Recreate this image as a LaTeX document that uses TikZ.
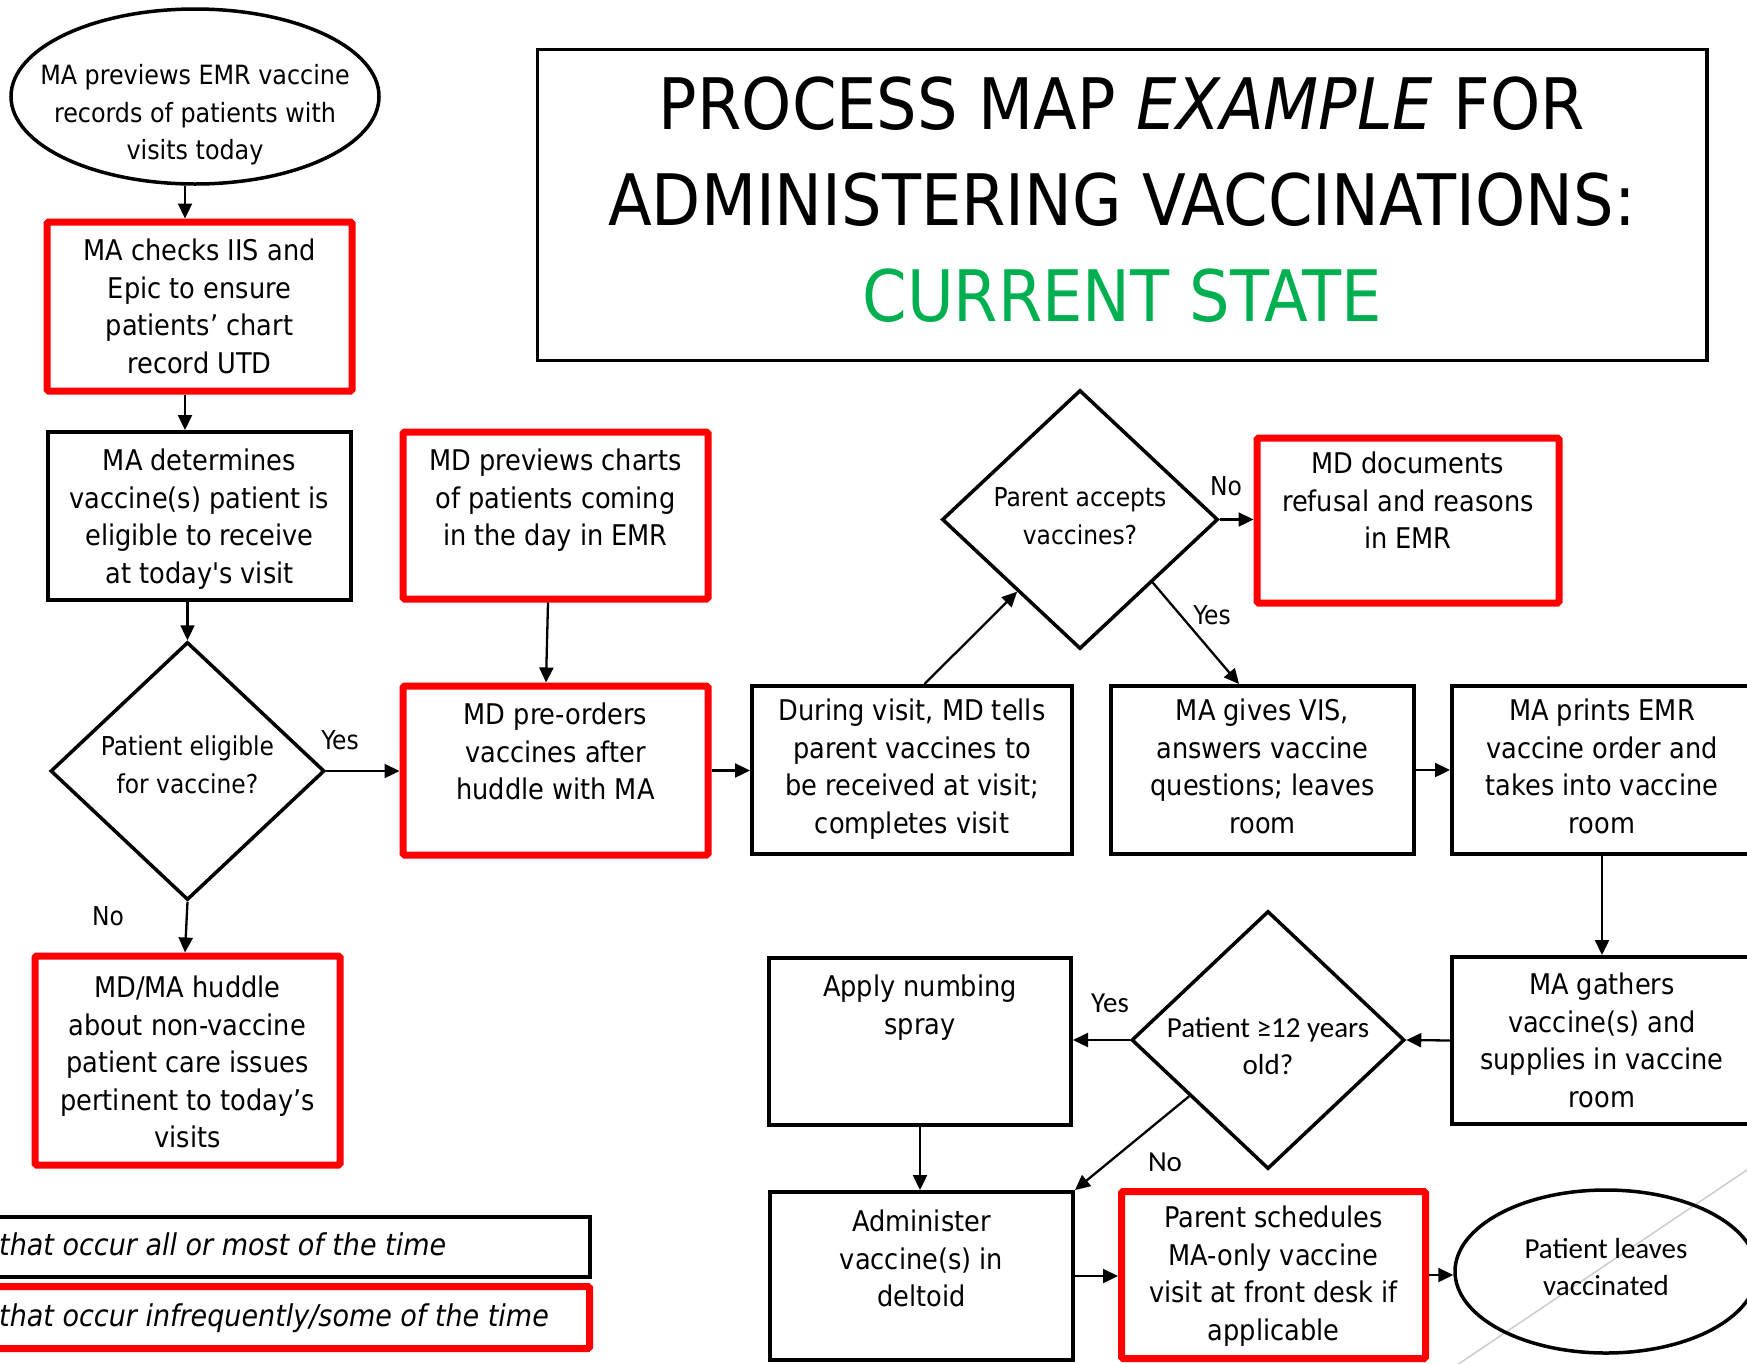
\documentclass[tikz,border=0pt]{standalone}
\usepackage{fontspec}
\setmainfont{DejaVu Sans Condensed}
\newfontfamily\calib{Carlito}
\usetikzlibrary{shapes.geometric,arrows.meta,calc}

\definecolor{boxred}{HTML}{FF0000}
\definecolor{titlegreen}{HTML}{00B050}

% type sizes (1 unit = 1pt)
\newcommand\bodyfont{\fontsize{28.5}{37.5}\selectfont}
\newcommand\smallfont{\fontsize{26}{37.5}\selectfont}
\newcommand\startfont{\fontsize{26.5}{37.5}\selectfont}
\newcommand\calfont{\calib\fontsize{29}{37.5}\selectfont}
\newcommand\legendfont{\itshape\fontsize{30}{36}\selectfont}
\newcommand\titlefont{\fontsize{71}{96}\selectfont}

% box text: width, height, top padding, lines (top aligned)
\newcommand\tb[4]{\parbox[c][#2pt][t]{#1pt}{\centering\bodyfont\vspace*{#3pt}\strut#4\par}}

\tikzset{
  blackbox/.style={draw=black, line width=4pt, inner sep=0pt},
  redbox/.style={draw=boxred, line width=7pt, inner sep=0pt, rounded corners=1.5pt},
  decision/.style={diamond, draw=black, line width=3.5pt, inner sep=0pt, aspect=1},
  terminal/.style={ellipse, draw=black, line width=3.5pt, inner sep=0pt},
  shapetext/.style={align=center, inner sep=0pt},
  arr/.style={line width=2.3pt, -{Triangle[length=15pt,width=14pt]}},
  lbl/.style={font=\smallfont, inner sep=0pt},
  callbl/.style={font=\calfont, inner sep=0pt},
}

\begin{document}
\begin{tikzpicture}[x=1pt,y=-1pt]
\useasboundingbox (0,0) rectangle (1747,1363);
\clip (0,0) rectangle (1747,1363);

% thin grey stroke across the lower right corner
\draw[gray!40, line width=1.5pt] (1450,1369.7) -- (1760,1161.2);

% title
\node[draw=black, line width=3.5pt, minimum width=1169.5, minimum height=311, inner sep=0pt]
  (titlebox) at (1122.25,205) {};
\node[font=\titlefont, align=center, inner sep=0pt] (title) at (1122,200)
  {PROCESS MAP \textit{EXAMPLE} FOR\\ADMINISTERING VACCINATIONS:\\\textcolor{titlegreen}{CURRENT STATE}};

% left column
\node[terminal, minimum width=368, minimum height=175] (start) at (195,96.5) {};
\node[shapetext, font=\startfont] (starttext) at (195,115)
  {MA previews EMR vaccine\\records of patients with\\visits today};

\node[redbox] (check) at (199.5,306.5)
  {\tb{305}{169}{12.25}{MA checks IIS and\\Epic to ensure\\patients’ chart\\record UTD}};

\node[blackbox] (determine) at (199.5,516)
  {\tb{303}{168}{12.25}{MA determines\\vaccine(s) patient is\\eligible to receive\\at today\textquotesingle s visit}};

\node[decision, minimum width=274, minimum height=258] (elig) at (187.5,771) {};
\node[shapetext, font=\smallfont] (eligtext) at (187.5,765)
  {Patient eligible\\for vaccine?};

\node[redbox] (huddle) at (187.5,1060.5)
  {\tb{305}{209}{15.25}{MD/MA huddle\\about non-vaccine\\patient care issues\\pertinent to today’s\\visits}};

% second column
\node[redbox] (previews) at (555.5,515.5)
  {\tb{305}{167}{12.25}{MD previews charts\\of patients coming\\in the day in EMR}};

\node[redbox] (preorder) at (555.5,770.5)
  {\tb{305}{169}{12.25}{MD pre-orders\\vaccines after\\huddle with MA}};

% middle row
\node[blackbox] (during) at (912,770)
  {\tb{320}{168}{8.25}{During visit, MD tells\\parent vaccines to\\be received at visit;\\completes visit}};

\node[decision, minimum width=276, minimum height=259] (accept) at (1080,519.5) {};
\node[shapetext, font=\smallfont] (accepttext) at (1080,516)
  {Parent accepts\\vaccines?};

\node[redbox] (refusal) at (1408,520.5)
  {\tb{302}{165}{9.25}{MD documents\\refusal and reasons\\in EMR}};

\node[blackbox] (givevis) at (1262.5,770)
  {\tb{303}{168}{8.25}{MA gives VIS,\\answers vaccine\\questions; leaves\\room}};

\node[blackbox] (prints) at (1602,770)
  {\tb{300}{168}{8.25}{MA prints EMR\\vaccine order and\\takes into vaccine\\room}};

% lower right
\node[blackbox] (gathers) at (1602,1040.5)
  {\tb{300}{167}{11.25}{MA gathers\\vaccine(s) and\\supplies in vaccine\\room}};

\node[decision, minimum width=273, minimum height=258] (age) at (1268,1040) {};
\node[shapetext, font=\calfont] (agetext) at (1268,1046)
  {Patient ≥12 years\\old?};

\node[blackbox] (numbing) at (920,1041.5)
  {\tb{302}{167}{12.25}{Apply numbing\\spray}};

\node[blackbox] (administer) at (921.5,1276)
  {\tb{303}{168}{13.25}{Administer\\vaccine(s) in\\deltoid}};

\node[redbox] (schedule) at (1273.5,1275)
  {\tb{304}{167}{9.75}{Parent schedules\\MA-only vaccine\\visit at front desk if\\applicable}};

\node[terminal, minimum width=302, minimum height=163] (leaves) at (1606,1271.5) {};
\node[shapetext, font=\calfont] (leavestext) at (1606,1267)
  {Patient leaves\\vaccinated};

% legend
\node[blackbox, minimum width=620, minimum height=60, anchor=east] (legendall) at (592,1247) {};
\node[redbox, minimum width=620, minimum height=62, anchor=east] (legendsome) at (593,1317.5) {};
\node[font=\legendfont, anchor=base west, inner sep=0pt] (legendalltext) at (-1,1255)
  {that occur all or most of the time};
\node[font=\legendfont, anchor=base west, inner sep=0pt] (legendsometext) at (-1,1326)
  {that occur infrequently/some of the time};

% connectors
\draw[arr] ($(start.south)+(-10,0)$) -- ($(check.north)+(-14.5,0)$);
\draw[arr] ($(check.south)+(-14.5,0)$) -- ($(determine.north)+(-14.5,0)$);
\draw[arr] ($(determine.south)+(-12,0)$) -- (elig.north);
\draw[arr] (elig.south) -- ($(huddle.north)+(-2.5,0)$);
\draw[arr] (elig.east) -- (elig.east -| preorder.west);
\draw[arr] ($(previews.south)+(-7.5,0)$) -- ($(preorder.north)+(-9.5,0)$);
\draw[arr] (preorder.east) -- (preorder.east -| during.west);
\draw[arr] ($(during.north)+(12.5,0)$) -- ($(accept.west)!0.55!(accept.south)$);
\draw[arr] (accept.east) -- (accept.east -| refusal.west);
\draw[arr] ($(accept.south)!0.52!(accept.east)$) -- ($(givevis.north)+(-23.5,0)$);
\draw[arr] (givevis.east) -- (givevis.east -| prints.west);
\draw[arr] (prints.south) -- (gathers.north);
\draw[arr] (gathers.west) -- (age.east);
\draw[arr] (age.west) -- (age.west -| numbing.east);
\draw[arr] ($(age.west)!0.43!(age.south)$) -- (administer.north east);
\draw[arr] (numbing.south) -- (numbing.south |- administer.north);
\draw[arr] (administer.east) -- (administer.east -| schedule.west);
\draw[arr] (schedule.east) -- (schedule.east -| leaves.west);

% branch labels
\node[lbl] (yeselig) at (340,740) {Yes};
\node[lbl] (noelig) at (108,916) {No};
\node[lbl] (noaccept) at (1226,486) {No};
\node[lbl] (yesaccept) at (1212,615) {Yes};
\node[callbl] (yesage) at (1110,1003) {Yes};
\node[callbl] (noage) at (1165,1162) {No};
\end{tikzpicture}
\end{document}
